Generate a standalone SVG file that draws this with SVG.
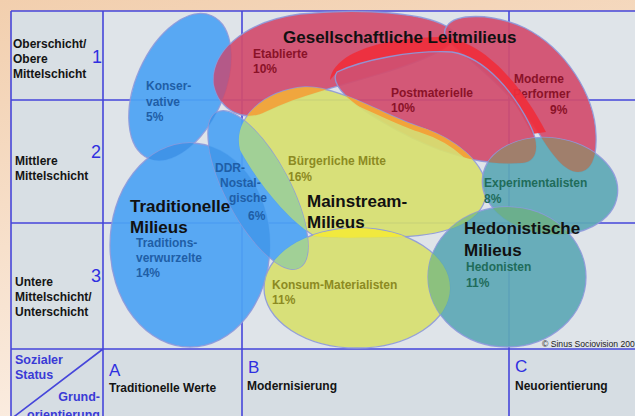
<svg xmlns="http://www.w3.org/2000/svg" width="635" height="416" viewBox="0 0 635 416">
<defs>
<style>
text{font-family:"Liberation Sans",Arial,sans-serif}
.row{font-size:12px;font-weight:bold;fill:#141414}
.num{font-size:18px;fill:#2f2fe0}
.axis{font-size:17px;fill:#2f2fe0}
.bt{font-size:12.5px;font-weight:bold;fill:#3a3ad6}
.title{font-size:17px;font-weight:bold;fill:#111}
.lbl{font-size:12px;font-weight:bold}
.lr{fill:#8a1228}.lb{fill:#1f5ea6}.ly{fill:#8c8a22}.lt{fill:#1f6c5a}
.grid{stroke:#4646da;stroke-width:1.6;fill:none}
.sh{stroke:#8d99dc;stroke-width:1.3;stroke-opacity:.9;fill-opacity:.93}
.ov{fill-opacity:.93}
.blue{fill:#4ea4f3}.red{fill:#d24e6e}.yel{fill:#d7e070}.teal{fill:#5fa9b6}
</style>
<linearGradient id="bg" x1="0" y1="0" x2="0.3" y2="1">
<stop offset="0" stop-color="#f2cfae"/>
<stop offset="1" stop-color="#fbeee3"/>
</linearGradient>
<ellipse id="s-kon" cx="180" cy="87" rx="44" ry="78" transform="rotate(24 180 87)"/>
<ellipse id="s-tra" cx="190" cy="245" rx="80" ry="102"/>
<ellipse id="s-ddr" cx="258" cy="190" rx="32" ry="88" transform="rotate(-28 258 190)"/>
<path id="s-eta" d="M214,85 C210,55 240,22 300,14 C360,8 430,12 452,30 C465,45 420,62 380,74 C340,86 300,95 265,112 C245,122 220,112 214,85 Z"/>
<path id="s-pm" d="M337,72 C362,60 412,50 452,52 C487,58 515,95 530,125 C540,145 538,162 522,163 C490,165 470,160 440,150 C400,135 360,110 345,95 C335,85 333,78 337,72 Z"/>
<path id="s-mp" d="M447,26 C455,14 490,12 525,28 C565,48 595,95 596,135 C597,160 590,172 578,172 C565,172 552,155 538,132 C515,98 480,68 455,47 C445,39 442,32 447,26 Z"/>
<path id="s-bm" d="M240,150 C232,118 265,90 305,87 C340,86 385,116 420,127 C455,138 490,165 486,195 C482,225 440,237 390,237 C355,238 330,238 314,236 C292,222 262,190 240,150 Z"/>
<ellipse id="s-km" cx="357" cy="288" rx="93" ry="60"/>
<ellipse id="s-ex" cx="550" cy="186" rx="68" ry="48" transform="rotate(8 550 186)"/>
<ellipse id="s-hd" cx="507" cy="277" rx="79" ry="70"/>
<clipPath id="c-kon"><use href="#s-kon"/></clipPath>
<clipPath id="c-tra"><use href="#s-tra"/></clipPath>
<clipPath id="c-eta"><use href="#s-eta"/></clipPath>
<clipPath id="c-pm"><use href="#s-pm"/></clipPath>
<clipPath id="c-mp"><use href="#s-mp"/></clipPath>
<clipPath id="c-bm"><use href="#s-bm"/></clipPath>
<clipPath id="c-km"><use href="#s-km"/></clipPath>
<clipPath id="c-ex"><use href="#s-ex"/></clipPath>
</defs>

<rect width="635" height="416" fill="url(#bg)"/>
<rect x="11" y="11" width="624" height="405" fill="#dfe4e9"/>
<rect x="11" y="11" width="92" height="338" fill="#d8dfe4"/>
<rect x="11" y="349" width="624" height="67" fill="#d6dde3"/>

<g id="grid" class="grid">
<path d="M11,11 H635 M11,11 V416 M11,100 H635 M11,223 H635 M11,349 H635 M103,11 V416 M242,11 V416 M509,11 V416 M103,349 L11,419"/>
</g>

<g id="konservative">
<use href="#s-kon" class="sh blue"/>
<text class="lbl lb" x="146" y="90">Konser-</text>
<text class="lbl lb" x="146" y="106">vative</text>
<text class="lbl lb" x="146" y="121">5%</text>
</g>

<g id="traditionsverwurzelte">
<use href="#s-tra" class="sh blue"/>
<use href="#s-tra" class="ov" fill="#3f92e6" clip-path="url(#c-kon)"/>
<text class="lbl lb" x="136" y="247">Traditions-</text>
<text class="lbl lb" x="136" y="262">verwurzelte</text>
<text class="lbl lb" x="136" y="277">14%</text>
</g>

<g id="etablierte">
<use href="#s-eta" class="sh red"/>
<use href="#s-eta" class="ov" fill="#b3598a" clip-path="url(#c-kon)"/>
<text class="lbl lr" x="253" y="58">Etablierte</text>
<text class="lbl lr" x="253" y="73">10%</text>
</g>

<g id="moderne-performer">
<use href="#s-mp" class="sh red"/>
<text class="lbl lr" x="514" y="83">Moderne</text>
<text class="lbl lr" x="513" y="98">Performer</text>
<text class="lbl lr" x="550" y="114">9%</text>
</g>

<g id="postmaterielle">
<path d="M330,80 C334,52 385,37 442,37 C482,40 520,82 546,132 L532,134 C512,95 487,58 452,52 C412,50 362,60 337,72 Z" fill="#ef2e3c" fill-opacity=".93"/>
<use href="#s-pm" class="sh red"/>
<text class="lbl lr" x="391" y="97">Postmaterielle</text>
<text class="lbl lr" x="391" y="112">10%</text>
</g>

<g id="buergerliche-mitte">
<use href="#s-bm" class="sh yel"/>
<use href="#s-bm" class="ov" fill="#f2a33a" clip-path="url(#c-eta)"/>
<g clip-path="url(#c-bm)">
<use href="#s-bm" fill="none" stroke="#f2a33a" stroke-width="10" clip-path="url(#c-pm)"/>
</g>
<text class="lbl ly" x="288" y="165">Bürgerliche Mitte</text>
<text class="lbl ly" x="288" y="181">16%</text>
</g>

<g id="konsum-materialisten">
<use href="#s-km" class="sh yel"/>
<use href="#s-km" class="ov" fill="#f2e93a" clip-path="url(#c-bm)"/>
<use href="#s-km" class="ov" fill="#a7d38f" clip-path="url(#c-tra)"/>
<text class="lbl ly" x="272" y="289">Konsum-Materialisten</text>
<text class="lbl ly" x="272" y="304">11%</text>
</g>

<g id="ddr-nostalgische">
<use href="#s-ddr" class="sh blue"/>
<use href="#s-ddr" class="ov" fill="#4498ea" clip-path="url(#c-tra)"/>
<use href="#s-ddr" class="ov" fill="#3f92e6" clip-path="url(#c-kon)"/>
<use href="#s-ddr" class="ov" fill="#a7d38f" clip-path="url(#c-bm)"/>
<use href="#s-ddr" class="ov" fill="#a7d38f" clip-path="url(#c-km)"/>
<text class="lbl lb" x="215" y="172">DDR-</text>
<text class="lbl lb" x="220" y="187">Nostal-</text>
<text class="lbl lb" x="229" y="202">gische</text>
<text class="lbl lb" x="248" y="220">6%</text>
</g>

<g id="experimentalisten">
<use href="#s-ex" class="sh teal"/>
<use href="#s-ex" class="ov" fill="#a57c66" clip-path="url(#c-pm)"/>
<use href="#s-ex" class="ov" fill="#a57c66" clip-path="url(#c-mp)"/>
<text class="lbl lt" x="484" y="187">Experimentalisten</text>
<text class="lbl lt" x="484" y="203">8%</text>
</g>

<g id="hedonisten">
<use href="#s-hd" class="sh teal"/>
<use href="#s-hd" class="ov" fill="#6caf8a" clip-path="url(#c-ex)"/>
<use href="#s-hd" class="ov" fill="#8fc37a" clip-path="url(#c-km)"/>
<use href="#s-hd" class="ov" fill="#8fc37a" clip-path="url(#c-bm)"/>
<text class="lbl lt" x="466" y="271">Hedonisten</text>
<text class="lbl lt" x="466" y="287">11%</text>
</g>

<g id="cluster-titles">
<text class="title" x="283" y="43">Gesellschaftliche Leitmilieus</text>
<text class="title" x="130" y="212">Traditionelle</text>
<text class="title" x="130" y="233">Milieus</text>
<text class="title" x="307" y="207">Mainstream-</text>
<text class="title" x="307" y="228">Milieus</text>
<text class="title" x="464" y="234">Hedonistische</text>
<text class="title" x="464" y="256">Milieus</text>
</g>

<g id="axis-labels">
<text class="row" x="13" y="48">Oberschicht/</text>
<text class="row" x="13" y="63">Obere</text>
<text class="row" x="13" y="78">Mittelschicht</text>
<text class="num" x="92" y="63">1</text>
<text class="row" x="15" y="165">Mittlere</text>
<text class="row" x="15" y="180">Mittelschicht</text>
<text class="num" x="91" y="158">2</text>
<text class="row" x="15" y="286">Untere</text>
<text class="row" x="15" y="301">Mittelschicht/</text>
<text class="row" x="15" y="316">Unterschicht</text>
<text class="num" x="91" y="282">3</text>
<text class="bt" x="15" y="364">Sozialer</text>
<text class="bt" x="15" y="379">Status</text>
<text class="bt" x="100" y="401" text-anchor="end">Grund-</text>
<text class="bt" x="100" y="419" text-anchor="end">orientierung</text>
<text class="axis" x="109" y="376">A</text>
<text class="row" x="109" y="392">Traditionelle Werte</text>
<text class="axis" x="248" y="373">B</text>
<text class="row" x="247" y="390">Modernisierung</text>
<text class="axis" x="515" y="372">C</text>
<text class="row" x="515" y="390">Neuorientierung</text>
<text x="542" y="347" font-size="8.6" fill="#222">© Sinus Sociovision 200</text>
</g>
</svg>
